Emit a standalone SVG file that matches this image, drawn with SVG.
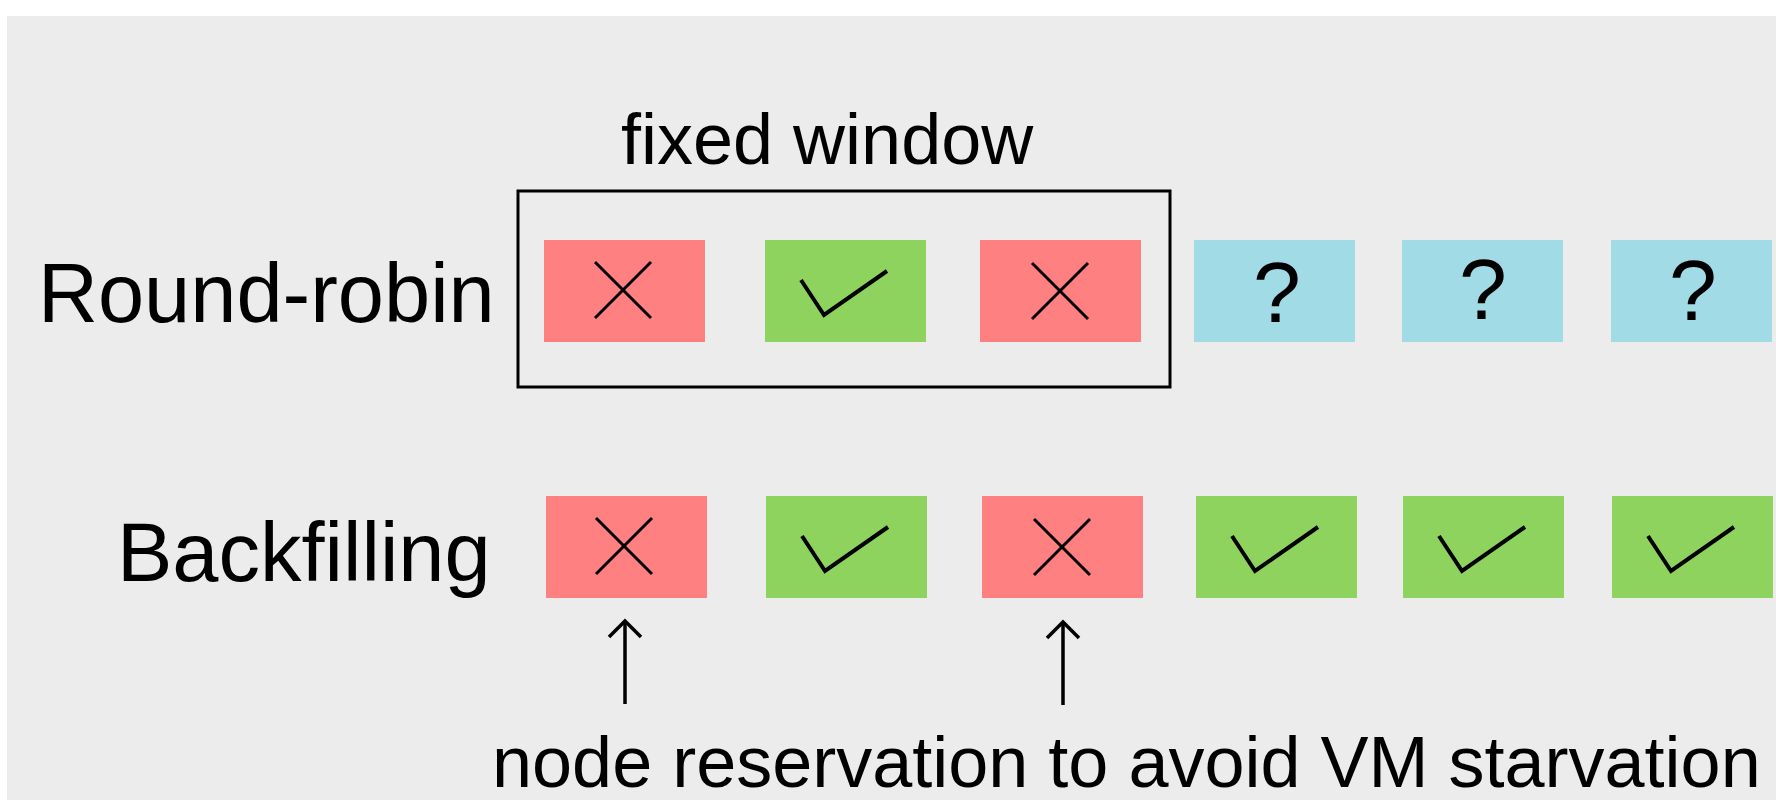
<svg xmlns="http://www.w3.org/2000/svg" width="1776" height="800" viewBox="0 0 1776 800">
  <style>
    .lbl { font-family: "Liberation Sans", Arial, sans-serif; fill: #000; }
    .row { font-size: 83px; }
    .note { font-size: 72px; }
    .fail { fill: #FF8080; }
    .ok { fill: #8FD35F; }
    .wait { fill: #A1DBE5; }
    .mark { fill: none; stroke: #000; stroke-width: 3; }
    .tick { fill: none; stroke: #000; stroke-width: 4; }
    .q { font-family: "Liberation Sans", Arial, sans-serif; font-size: 86px; text-anchor: middle; }
    .arrow { fill: none; stroke: #000; stroke-width: 3.5; }
  </style>
  <defs>
    <g id="cross">
      <line class="mark" x1="-28" y1="-28" x2="28" y2="28"/>
      <line class="mark" x1="28" y1="-28" x2="-28" y2="28"/>
    </g>
    <polyline id="check" class="tick" points="-44,-11 -21,24 42,-20"/>
  </defs>

  <!-- background panel -->
  <rect x="7" y="16" width="1769" height="784" fill="#ECECEC"/>

  <!-- row labels -->
  <text id="label-rr" class="lbl row" x="38" y="322">Round-robin</text>
  <text id="label-bf" class="lbl row" x="117" y="581">Backfilling</text>

  <!-- fixed window -->
  <g id="window">
    <text class="lbl note" x="621" y="164">fixed window</text>
    <rect x="518" y="191" width="652" height="196" fill="none" stroke="#000" stroke-width="3"/>
  </g>

  <!-- round-robin row -->
  <g id="rr1"><rect class="fail" x="544" y="240" width="161" height="102"/><use href="#cross" x="623" y="290"/></g>
  <g id="rr2"><rect class="ok" x="765" y="240" width="161" height="102"/><use href="#check" x="845" y="291"/></g>
  <g id="rr3"><rect class="fail" x="980" y="240" width="161" height="102"/><use href="#cross" x="1060" y="291"/></g>
  <g id="rr4"><rect class="wait" x="1194" y="240" width="161" height="102"/><text class="q" x="1277" y="322">?</text></g>
  <g id="rr5"><rect class="wait" x="1402" y="240" width="161" height="102"/><text class="q" x="1483" y="319">?</text></g>
  <g id="rr6"><rect class="wait" x="1611" y="240" width="161" height="102"/><text class="q" x="1693" y="320">?</text></g>

  <!-- backfilling row -->
  <g id="bf1"><rect class="fail" x="546" y="496" width="161" height="102"/><use href="#cross" x="624" y="546"/></g>
  <g id="bf2"><rect class="ok" x="766" y="496" width="161" height="102"/><use href="#check" x="846" y="547"/></g>
  <g id="bf3"><rect class="fail" x="982" y="496" width="161" height="102"/><use href="#cross" x="1062" y="547"/></g>
  <g id="bf4"><rect class="ok" x="1196" y="496" width="161" height="102"/><use href="#check" x="1276" y="547"/></g>
  <g id="bf5"><rect class="ok" x="1403" y="496" width="161" height="102"/><use href="#check" x="1483" y="547"/></g>
  <g id="bf6"><rect class="ok" x="1612" y="496" width="161" height="102"/><use href="#check" x="1692" y="547"/></g>

  <!-- reservation pointers -->
  <g id="connectors">
    <line class="arrow" x1="625" y1="704" x2="625" y2="621"/>
    <polyline class="arrow" points="609,637 625,621 641,637"/>
    <line class="arrow" x1="1063" y1="705" x2="1063" y2="622"/>
    <polyline class="arrow" points="1047,638 1063,622 1079,638"/>
  </g>

  <text id="note" class="lbl note" x="492" y="787">node reservation to avoid VM starvation</text>
</svg>
